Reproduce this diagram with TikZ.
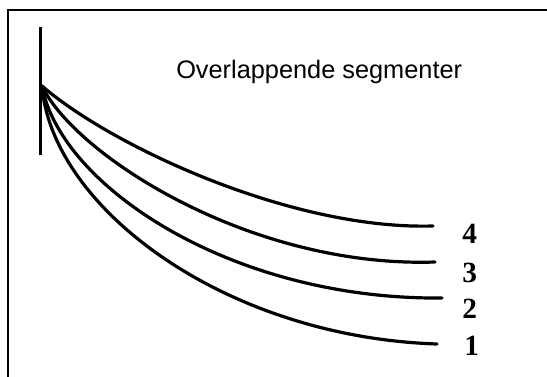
\documentclass[tikz,border=0pt]{standalone}
\usepackage{fontspec}
\setmainfont{Liberation Serif}
\newfontfamily\titlefont{Liberation Sans}
\usetikzlibrary{positioning}
\tikzset{
  frame/.style={line width=2pt},
  stem/.style={line width=2.2pt},
  strand/.style={line width=2.4pt, line cap=round},
  heading/.style={font=\titlefont\fontsize{19}{21}\selectfont, inner sep=0pt, anchor=base west},
  tag/.style={font=\fontsize{22}{24}\selectfont\bfseries, inner sep=0pt, anchor=base west},
}
\begin{document}
\begin{tikzpicture}[x=0.75pt, y=-0.75pt]
  \useasboundingbox (0,0) rectangle (547,376);
  \fill[white] (0,0) rectangle (547,376);
  \draw[frame] (548,10) -- (8,10) -- (8,377);

  \coordinate (root) at (42,86);
  \coordinate (e4) at (433,226);
  \coordinate (e3) at (435,262);
  \coordinate (e2) at (442,298);
  \coordinate (e1) at (437,344);
  \draw[stem] (40.5,27) -- (40.5,155);

  \draw[strand] (root) .. controls (110,145) and (290,230) .. (e4);
  \draw[strand] (root) .. controls (75,155) and (250,268) .. (e3);
  \draw[strand] (root) .. controls (60,185) and (230,300) .. (e2);
  \draw[strand] (root) .. controls (52,208) and (225,337) .. (e1);

  \node[heading] (title) at (176,78) {Overlappende segmenter};
  \node[tag] (t4) at (462,243) {4};
  \node[tag] (t3) at (462,282) {3};
  \node[tag] (t2) at (462,318) {2};
  \node[tag] (t1) at (464,355) {1};
\end{tikzpicture}
\end{document}
